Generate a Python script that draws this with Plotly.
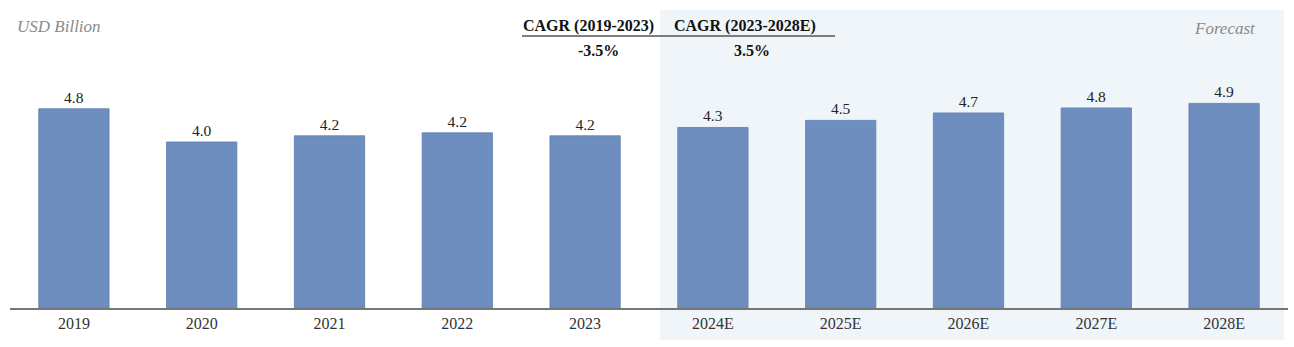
import plotly.graph_objects as go

categories = ["2019", "2020", "2021", "2022", "2023", "2024E", "2025E", "2026E", "2027E", "2028E"]
values = [4.8, 4.0, 4.15, 4.22, 4.15, 4.35, 4.52, 4.7, 4.82, 4.93]
labels = ["4.8", "4.0", "4.2", "4.2", "4.2", "4.3", "4.5", "4.7", "4.8", "4.9"]
cagr_heads = ["CAGR (2019-2023)", "CAGR (2023-2028E)"]
cagr_vals = ["-3.5%", "3.5%"]

W, H = 1294, 347
ML, MR, MT, MB = 10, 6, 10, 39
pw = W - ML - MR
ph = H - MT - MB

def px(x):
    return (x - ML) / pw

def py(y):
    return (H - MB - y) / ph

serif = "Liberation Serif, Times New Roman, serif"

fig = go.Figure()
fig.add_trace(go.Bar(
    x=categories, y=values, text=labels, textposition="outside",
    textfont=dict(family=serif, size=15.5, color="#222"),
    marker=dict(color="#6d8ebf", line=dict(color="#5d7eaf", width=0.8)),
    width=0.55, cliponaxis=False, hoverinfo="skip",
))

# forecast shaded region
fig.add_shape(type="rect", xref="paper", yref="paper",
              x0=px(660), x1=px(1284), y0=py(340), y1=py(10),
              fillcolor="#f0f5fa", line=dict(width=0), layer="below")

# CAGR underline
fig.add_shape(type="line", xref="paper", yref="paper",
              x0=px(522), x1=px(835), y0=py(36), y1=py(36),
              line=dict(color="#555", width=1.5))

ann = []
ann.append(dict(text="<i>USD Billion</i>", x=px(15), y=py(26), xanchor="left", yanchor="middle",
                font=dict(family=serif, size=17, color="#8a8a8a")))
ann.append(dict(text="<i>Forecast</i>", x=px(1258), y=py(29), xanchor="right", yanchor="middle",
                font=dict(family=serif, size=17, color="#8a8a8a")))
for head, val, cx, cvx in zip(cagr_heads, cagr_vals, [588, 745], [598, 752]):
    ann.append(dict(text="<b>" + head + "</b>", x=px(cx), y=py(26), xanchor="center", yanchor="middle",
                    font=dict(family=serif, size=16, color="#111")))
    ann.append(dict(text="<b>" + val + "</b>", x=px(cvx), y=py(51), xanchor="center", yanchor="middle",
                    font=dict(family=serif, size=16, color="#111")))
for a in ann:
    a.update(xref="paper", yref="paper", showarrow=False)

fig.update_layout(
    width=W, height=H, margin=dict(l=ML, r=MR, t=MT, b=MB),
    paper_bgcolor="white", plot_bgcolor="rgba(0,0,0,0)",
    showlegend=False, annotations=ann,
    xaxis=dict(type="category", range=[-0.5, 9.5], showline=True, linecolor="#777", linewidth=1.5,
               ticks="", tickfont=dict(family=serif, size=16, color="#333"), showgrid=False),
    yaxis=dict(range=[0, 7.18], visible=False, showgrid=False),
)

fig.write_html("out.html")
